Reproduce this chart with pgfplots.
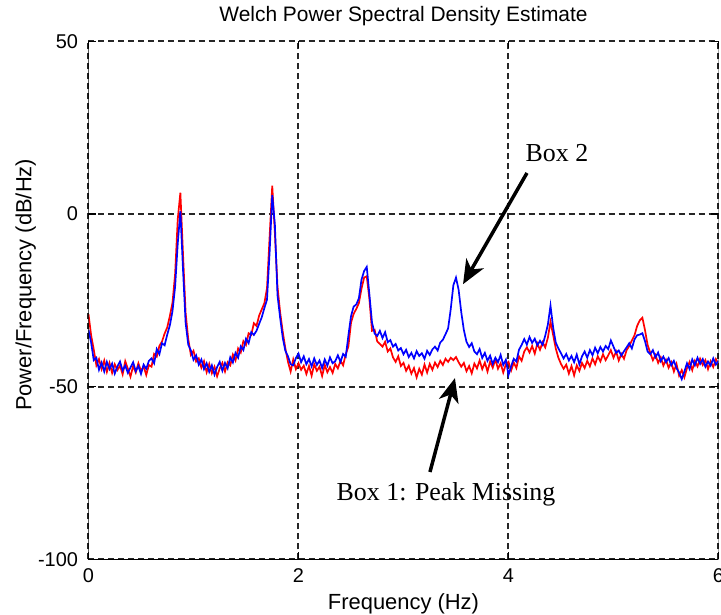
\documentclass[border=0pt]{standalone}
\usepackage{fontspec}
\setmainfont{Liberation Sans}
\newfontfamily\timesfont{Liberation Serif}
\usepackage{pgfplots}
\pgfplotsset{compat=1.18}
\usepackage{pgfplotstable}
\usetikzlibrary{arrows.meta}

% Welch PSD estimates (dB/Hz)
\pgfplotstableread{
x     red    blue
0.000 -29.0 -33.5
0.025 -35.1 -37.2
0.050 -39.2 -42.3
0.075 -43.8 -41.6
0.100 -42.0 -45.1
0.125 -44.9 -43.0
0.150 -42.4 -45.6
0.175 -45.7 -42.8
0.200 -43.1 -44.9
0.225 -46.0 -43.3
0.250 -43.5 -46.2
0.275 -45.2 -44.1
0.300 -43.9 -42.7
0.325 -46.4 -45.3
0.350 -42.6 -43.9
0.375 -44.8 -46.0
0.400 -47.1 -44.4
0.425 -44.0 -42.9
0.450 -45.9 -45.5
0.475 -43.2 -44.0
0.500 -45.5 -46.3
0.525 -44.1 -43.6
0.550 -46.6 -44.8
0.575 -43.7 -42.5
0.600 -44.2 -41.8
0.625 -40.5 -43.2
0.650 -41.3 -39.1
0.675 -38.2 -40.6
0.700 -36.9 -37.4
0.725 -34.6 -38.0
0.750 -32.8 -34.9
0.775 -29.5 -32.2
0.800 -25.7 -28.1
0.825 -17.3 -21.0
0.850 -1.5  -8.5
0.875 6.2   0.8
0.900 -11.5 -16.0
0.925 -28.6 -31.5
0.950 -36.2 -37.8
0.975 -40.8 -39.5
1.000 -39.6 -42.2
1.025 -42.7 -40.9
1.050 -41.8 -43.6
1.075 -44.5 -42.1
1.100 -42.6 -44.9
1.125 -45.8 -43.2
1.150 -43.4 -45.7
1.175 -46.1 -43.8
1.200 -44.2 -46.5
1.225 -47.0 -44.3
1.250 -44.7 -42.8
1.275 -43.1 -45.4
1.300 -45.6 -43.1
1.325 -42.9 -44.7
1.350 -43.8 -41.5
1.375 -40.7 -43.0
1.400 -42.4 -40.2
1.425 -38.9 -41.6
1.450 -40.1 -38.3
1.475 -36.8 -39.4
1.500 -37.9 -36.1
1.525 -34.5 -37.4
1.550 -35.0 -34.2
1.575 -31.6 -35.0
1.600 -32.4 -33.8
1.625 -29.4 -31.8
1.650 -27.6 -29.9
1.675 -25.8 -27.2
1.700 -21.5 -24.8
1.725 -6.5  -11.0
1.750 8.2   5.5
1.775 -5.5  -3.0
1.800 -21.0 -23.5
1.825 -28.4 -30.0
1.850 -34.1 -35.8
1.875 -38.9 -39.6
1.900 -42.8 -41.2
1.925 -45.6 -43.5
1.950 -42.1 -43.8
1.975 -44.9 -41.7
2.000 -43.2 -40.4
2.025 -45.1 -42.9
2.050 -43.9 -41.2
2.075 -46.3 -43.5
2.100 -44.0 -42.0
2.125 -46.8 -44.1
2.150 -43.5 -41.8
2.175 -45.4 -43.7
2.200 -44.2 -42.4
2.225 -46.9 -44.6
2.250 -43.7 -42.1
2.275 -45.8 -43.9
2.300 -44.3 -41.5
2.325 -46.0 -43.2
2.350 -43.4 -42.6
2.375 -44.7 -40.9
2.400 -42.5 -42.8
2.425 -43.8 -40.5
2.450 -40.6 -41.3
2.475 -38.4 -35.2
2.500 -31.5 -29.6
2.525 -28.9 -26.8
2.550 -27.5 -26.2
2.575 -25.8 -24.4
2.600 -21.6 -19.0
2.625 -18.4 -16.5
2.650 -18.0 -15.3
2.675 -24.5 -23.2
2.700 -33.8 -31.4
2.725 -33.5 -34.6
2.750 -36.9 -35.3
2.775 -37.6 -33.8
2.800 -38.4 -35.9
2.825 -37.0 -34.2
2.850 -39.8 -37.1
2.875 -38.9 -36.5
2.900 -41.5 -38.4
2.925 -42.8 -37.6
2.950 -41.2 -39.5
2.975 -44.0 -38.8
3.000 -43.1 -40.6
3.025 -45.4 -39.3
3.050 -43.9 -41.4
3.075 -46.2 -40.2
3.100 -44.6 -41.8
3.125 -47.3 -39.7
3.150 -44.8 -41.1
3.175 -46.5 -40.3
3.200 -43.6 -41.9
3.225 -45.9 -39.6
3.250 -43.4 -40.8
3.275 -45.1 -39.2
3.300 -43.0 -38.4
3.325 -44.3 -39.5
3.350 -42.5 -37.2
3.375 -43.7 -36.4
3.400 -41.9 -34.8
3.425 -42.8 -33.1
3.450 -41.6 -27.5
3.475 -42.3 -20.6
3.500 -41.4 -18.4
3.525 -42.9 -21.9
3.550 -44.2 -28.4
3.575 -43.1 -33.6
3.600 -45.5 -37.0
3.625 -44.0 -38.5
3.650 -46.1 -37.4
3.675 -43.3 -39.8
3.700 -44.7 -40.6
3.725 -42.4 -39.1
3.750 -44.9 -41.7
3.775 -43.0 -40.2
3.800 -45.6 -42.5
3.825 -42.7 -41.0
3.850 -44.5 -43.4
3.875 -42.1 -41.6
3.900 -44.8 -42.9
3.925 -43.2 -40.8
3.950 -45.9 -43.7
3.975 -43.5 -42.2
4.000 -42.8 -46.6
4.025 -45.3 -44.1
4.050 -43.0 -41.9
4.075 -44.6 -42.7
4.100 -41.2 -39.3
4.125 -42.5 -37.9
4.150 -39.8 -36.2
4.175 -38.6 -37.8
4.200 -40.1 -35.6
4.225 -38.2 -37.3
4.250 -40.4 -36.1
4.275 -37.5 -38.0
4.300 -39.3 -36.7
4.325 -37.1 -37.9
4.350 -38.6 -35.2
4.375 -35.8 -32.0
4.400 -31.2 -26.5
4.425 -35.0 -32.8
4.450 -38.9 -37.2
4.475 -41.6 -38.9
4.500 -43.4 -40.3
4.525 -44.8 -41.8
4.550 -43.6 -40.5
4.575 -46.2 -42.4
4.600 -44.0 -41.1
4.625 -46.7 -42.9
4.650 -43.8 -40.7
4.675 -45.4 -43.5
4.700 -43.1 -41.2
4.725 -44.6 -39.8
4.750 -42.5 -41.6
4.775 -44.1 -39.4
4.800 -41.8 -40.9
4.825 -43.5 -38.7
4.850 -41.2 -40.3
4.875 -42.7 -38.5
4.900 -40.6 -39.8
4.925 -42.3 -38.2
4.950 -40.9 -39.1
4.975 -39.4 -36.6
5.000 -41.6 -38.4
5.025 -39.8 -40.2
5.050 -42.4 -39.5
5.075 -40.5 -41.0
5.100 -41.9 -39.7
5.125 -39.4 -38.6
5.150 -38.2 -37.4
5.175 -36.6 -38.9
5.200 -35.1 -36.3
5.225 -32.4 -35.1
5.250 -30.8 -34.9
5.275 -30.0 -34.5
5.300 -33.6 -36.8
5.325 -37.9 -39.8
5.350 -40.2 -40.6
5.375 -42.3 -39.4
5.400 -40.8 -41.5
5.425 -43.1 -40.1
5.450 -41.5 -42.6
5.475 -43.9 -41.3
5.500 -42.2 -42.9
5.525 -44.5 -41.7
5.550 -42.9 -43.8
5.575 -45.6 -42.5
5.600 -43.4 -44.6
5.625 -46.8 -45.9
5.650 -45.2 -47.8
5.675 -47.3 -45.6
5.700 -44.6 -43.2
5.725 -42.8 -44.9
5.750 -45.2 -42.1
5.775 -42.5 -43.8
5.800 -44.1 -41.6
5.825 -41.9 -43.4
5.850 -43.7 -42.0
5.875 -42.3 -44.2
5.900 -44.9 -42.7
5.925 -42.6 -43.9
5.950 -44.3 -41.8
5.975 -42.0 -43.6
6.000 -43.4 -42.5
}\psd

\begin{document}
\begin{tikzpicture}
\begin{axis}[
  scale only axis,
  width=630bp, height=518bp,
  xmin=0, xmax=6, ymin=-100, ymax=50,
  xtick={0,2,4,6}, ytick={-100,-50,0,50},
  axis line style={draw=none},
  tick align=inside,
  major tick length=7bp,
  tick style={black, line width=1.4bp},
  grid=major,
  major grid style={black!85, line width=2bp, dash pattern=on 6bp off 4bp},
  /pgf/number format/assume math mode=true,
  tick label style={font=\fontsize{20}{22}\selectfont},
  yticklabel style={xshift=-7bp},
  xticklabel style={yshift=-6bp},
  title={Welch Power Spectral Density Estimate},
  title style={font=\fontsize{21}{24}\selectfont, at={(axis description cs:0.5,1)}, anchor=south, yshift=6bp},
  xlabel={Frequency (Hz)},
  xlabel style={font=\fontsize{22}{24}\selectfont, at={(axis description cs:0.5,0)}, anchor=base, yshift=-50bp},
  ylabel={Power/Frequency (dB/Hz)},
  ylabel style={font=\fontsize{22}{24}\selectfont, at={(axis description cs:0,0.53)}, anchor=base, yshift=57bp},
]
\addplot[red, line width=1.7bp] table[x=x, y=red] {\psd};
\addplot[blue, line width=1.7bp] table[x=x, y=blue] {\psd};

% frame: left, bottom, right solid; top is the dashed grid line
\draw[black, line width=1.6bp] (rel axis cs:0,1) -- (rel axis cs:0,0) -- (rel axis cs:1,0) -- (rel axis cs:1,1);

\node[font=\timesfont\fontsize{26}{28}\selectfont, anchor=base] at (axis cs:4.462,15.1) {Box 2};
\node[font=\timesfont\fontsize{26}{28}\selectfont, anchor=base] at (axis cs:3.405,-82.8) {Box 1: Peak Missing};
\draw[line width=3.5bp, -{Stealth[length=24bp, width=20bp, inset=7bp]}] (axis cs:4.176,11.9) -- (axis cs:3.567,-20.3);
\draw[line width=3.5bp, -{Stealth[length=24bp, width=20bp, inset=7bp]}] (axis cs:3.252,-74.7) -- (axis cs:3.490,-47.5);
\end{axis}
\pgfresetboundingbox
\path[use as bounding box] ([shift={(-88.5bp,-55.6bp)}]current axis.south west) rectangle ([shift={(632.5bp,559.4bp)}]current axis.south west);
\end{tikzpicture}
\end{document}
